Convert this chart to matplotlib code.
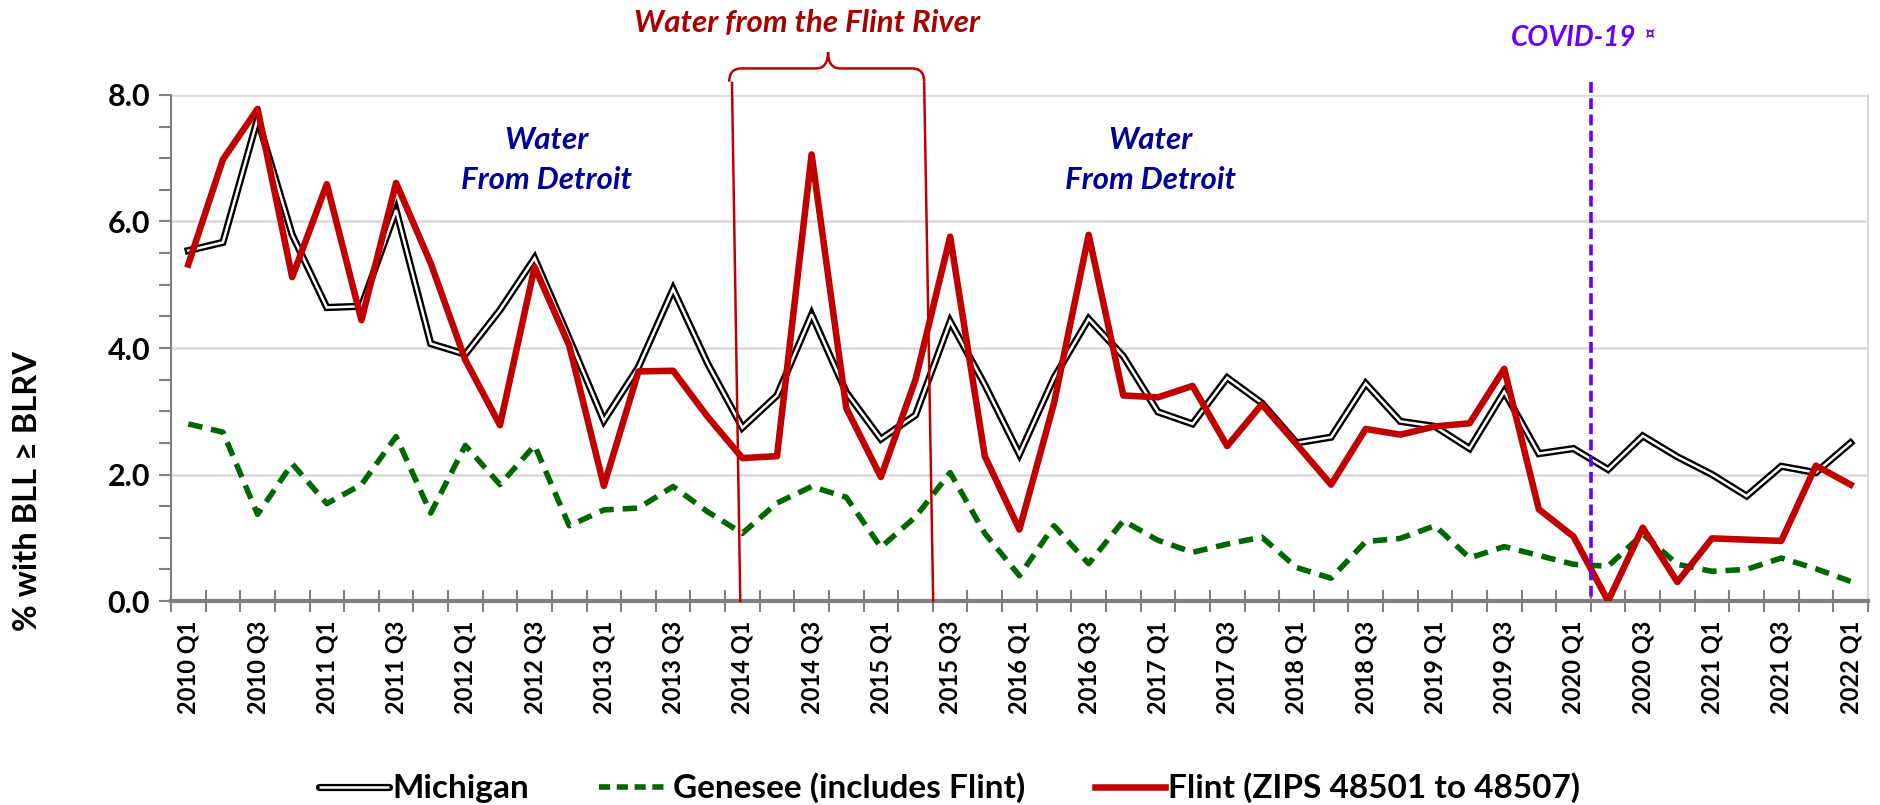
import matplotlib
matplotlib.use("Agg")
import matplotlib.pyplot as plt
import numpy as np
from matplotlib.path import Path
from matplotlib.patches import PathPatch
from matplotlib.lines import Line2D
import matplotlib.patheffects as pe

plt.rcParams['font.family'] = ['Lato', 'DejaVu Sans']

# quarterly share of children with BLL >= BLRV, 2010 Q1 .. 2022 Q1
quarters = [f"{y} Q{q}" for y in range(2010, 2023) for q in range(1, 5)][:49]

michigan = [5.54, 5.67, 7.62, 5.79, 4.64, 4.66, 6.18, 4.07, 3.90, 4.60, 5.42, 4.15, 2.85,
            3.70, 4.93, 3.75, 2.74, 3.25, 4.53, 3.30, 2.56, 2.94, 4.42, 3.42, 2.32, 3.53,
            4.46, 3.87, 2.99, 2.80, 3.53, 3.13, 2.50, 2.59, 3.44, 2.84, 2.76, 2.41, 3.31,
            2.33, 2.41, 2.08, 2.61, 2.28, 2.00, 1.66, 2.13, 2.03, 2.50]
genesee = [2.80, 2.67, 1.37, 2.17, 1.54, 1.84, 2.60, 1.39, 2.46, 1.84, 2.46, 1.19, 1.44,
           1.47, 1.81, 1.41, 1.07, 1.55, 1.81, 1.64, 0.85, 1.33, 2.03, 1.07, 0.40, 1.19,
           0.59, 1.27, 0.96, 0.77, 0.90, 1.01, 0.53, 0.36, 0.94, 0.99, 1.19, 0.68, 0.86,
           0.72, 0.58, 0.55, 1.06, 0.58, 0.47, 0.50, 0.68, 0.51, 0.31]
flint = [5.32, 6.98, 7.78, 5.12, 6.59, 4.44, 6.61, 5.34, 3.81, 2.78, 5.28, 4.04, 1.82,
         3.63, 3.64, 2.91, 2.26, 2.29, 7.06, 3.05, 1.96, 3.50, 5.76, 2.29, 1.13, 3.13,
         5.79, 3.25, 3.22, 3.40, 2.45, 3.11, 2.48, 1.84, 2.72, 2.63, 2.76, 2.81, 3.67,
         1.45, 1.02, 0.00, 1.16, 0.30, 0.99, 0.97, 0.95, 2.14, 1.84]

series_labels = ["Michigan", "Genesee (includes Flint)", "Flint (ZIPS 48501 to 48507)"]

# event markers (x in quarter index units)
flint_river_start = 15.7
flint_river_end = 21.25
covid_x = 40.5

RED = "#C00000"
DARKRED = "#A50000"
GREEN = "#006600"
PURPLE = "#6600FF"
NAVY = "#000099"
GRAY = "#808080"

x = np.arange(len(quarters))

fig = plt.figure(figsize=(18.81, 8.05), dpi=100)
ax = fig.add_axes([0.0909, 0.2534, 0.9021, 0.6286])

# Michigan: double line (black outline, white core)
ax.plot(x, michigan, color="black", lw=5.2, solid_joinstyle="miter", zorder=3)
ax.plot(x, michigan, color="white", lw=1.8, solid_joinstyle="miter", zorder=3.1)
ax.plot(x, genesee, color=GREEN, lw=4, linestyle=(0, (2.6, 1.6)), zorder=3)
ax.plot(x, flint, color=RED, lw=4.7, zorder=4)

ax.set_xlim(-0.5, len(quarters) - 0.5)
ax.set_ylim(0, 8)

# y axis
ax.set_yticks(np.arange(0, 8.1, 2))
ax.set_yticks(np.arange(0, 8.1, 0.5), minor=True)
ax.set_yticklabels([f"{v:.1f}" for v in np.arange(0, 8.1, 2)], fontsize=22, fontweight="bold")
ax.grid(axis="y", which="major", color="#d9d9d9", lw=1.8, zorder=0)
ax.tick_params(axis="y", which="both", direction="out", length=9, width=1.5, color=GRAY, pad=6)

# x axis: labels on Q1/Q3, tick marks at category boundaries
ax.set_xticks(x[::2])
ax.set_xticklabels(quarters[::2], rotation=90, fontsize=17, fontweight="bold")
ax.set_xticks(np.arange(-0.5, len(quarters), 1), minor=True)
ax.tick_params(axis="x", which="major", length=0, pad=14)
ax.tick_params(axis="x", which="minor", direction="inout", length=16, width=1.5, color=GRAY)

ax.spines["top"].set_visible(False)
ax.spines["right"].set_color("#d9d9d9")
ax.spines["right"].set_linewidth(1.5)
ax.spines["left"].set_color(GRAY)
ax.spines["left"].set_linewidth(1.5)
ax.spines["bottom"].set_color(GRAY)
ax.spines["bottom"].set_linewidth(3)

ax.set_ylabel("% with BLL \u2265 BLRV", fontsize=23.5, fontweight="bold")
ax.yaxis.set_label_coords(-0.076, 0.217)

# Flint River period: brace + vertical lines
y_end, y_bar, y_tip = 8.21, 8.42, 8.68
xm = (flint_river_start + flint_river_end) / 2
x0, x1 = flint_river_start - 0.08, flint_river_end
verts = [(x0, y_end), (x0, y_bar), (x0 + 0.35, y_bar),
         (xm - 0.35, y_bar), (xm, y_bar), (xm, y_tip),
         (xm, y_bar), (xm + 0.35, y_bar),
         (x1 - 0.35, y_bar), (x1, y_bar), (x1, y_end)]
codes = [Path.MOVETO, Path.CURVE3, Path.CURVE3,
         Path.LINETO, Path.CURVE3, Path.CURVE3,
         Path.CURVE3, Path.CURVE3,
         Path.LINETO, Path.CURVE3, Path.CURVE3]
ax.add_patch(PathPatch(Path(verts, codes), fill=False, edgecolor=RED, lw=1.8, clip_on=False, zorder=5))
ax.plot([flint_river_start, flint_river_start + 0.24], [8.19, 0], color=RED, lw=1.8, clip_on=False, zorder=5)
ax.plot([flint_river_end, flint_river_end + 0.26], [8.19, 0], color=RED, lw=1.8, clip_on=False, zorder=5)
ax.text(17.88, 9.14, "Water from the Flint River", ha="center", va="center", fontsize=22.5,
        fontweight="bold", fontstyle="italic", color=DARKRED, clip_on=False)

# Detroit water annotations
for xc in (10.34, 27.78):
    ax.text(xc, 7.29, "Water", ha="center", va="center", fontsize=22.5,
            fontweight="bold", fontstyle="italic", color=NAVY)
    ax.text(xc, 6.66, "From Detroit", ha="center", va="center", fontsize=22.5,
            fontweight="bold", fontstyle="italic", color=NAVY)

# COVID-19 marker
ax.plot([covid_x, covid_x], [8.2, 0], color=PURPLE, lw=2.6, linestyle=(0, (3, 1.5)),
        clip_on=False, zorder=6)
ax.text(40.0, 8.9, "COVID-19", ha="center", va="center", fontsize=20,
        fontweight="bold", fontstyle="italic", color=PURPLE, clip_on=False)
ax.text(42.18, 8.96, "\u00a4", ha="center", va="center", fontsize=13,
        fontweight="bold", color=PURPLE, clip_on=False)

# legend
mich_handle = Line2D([], [], color="black", lw=5.2, solid_capstyle="round",
                     path_effects=[pe.Normal(),
                                   pe.Stroke(linewidth=1.8, foreground="white", capstyle="butt")])
gen_handle = Line2D([], [], color=GREEN, lw=4, linestyle=(0, (2.0, 1.2)))
fl_handle = Line2D([], [], color=RED, lw=4.7)
fig.legend([mich_handle, gen_handle, fl_handle], series_labels,
           loc="center", bbox_to_anchor=(0.505, 0.021), ncol=3, frameon=False,
           prop={"size": 24, "weight": "bold"}, handlelength=2.1, handletextpad=0.1,
           columnspacing=2.1, borderpad=0)

fig.savefig("out.png", dpi=100)
